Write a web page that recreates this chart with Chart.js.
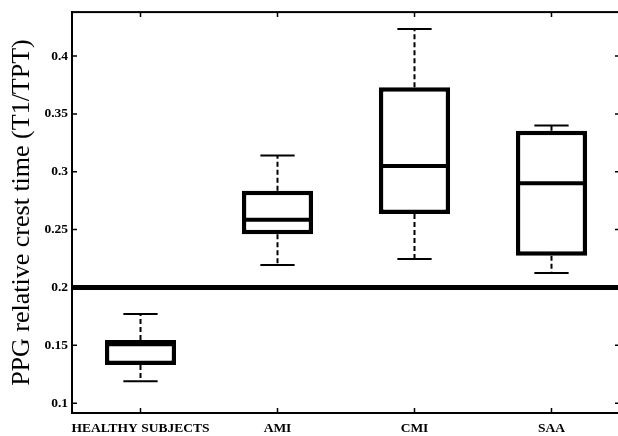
<!DOCTYPE html>
<html>
<head>
<meta charset="utf-8">
<script src="https://cdn.jsdelivr.net/npm/chart.js@4"></script>
<style>
  body { margin: 0; background: #fff; overflow: hidden; }
  #wrap { width: 622px; height: 436px; }
</style>
</head>
<body>
<div id="wrap"><canvas id="chart"></canvas></div>
<script>
// box plot values
const categories = ['HEALTHY SUBJECTS', 'AMI', 'CMI', 'SAA'];
const whiskerLow = [0.119, 0.2195, 0.2245, 0.2125];
const q1 = [0.133, 0.246, 0.2635, 0.2275];
const median = [0.151, 0.2585, 0.305, 0.290];
const q3 = [0.1545, 0.2835, 0.373, 0.3355];
const whiskerHigh = [0.177, 0.314, 0.4235, 0.340];
const yTicks = [0.1, 0.15, 0.2, 0.25, 0.3, 0.35, 0.4];
const threshold = 0.2;

const ctx = document.querySelector('#chart').getContext('2d');

// whiskers, medians, threshold line, frame and inward ticks
const boxExtras = {
    id: 'boxExtras',
    afterDatasetsDraw(chart) {
        const c = chart.ctx;
        const x = chart.scales.x;
        const y = chart.scales.y;
        const area = chart.chartArea;
        const half = x.width / categories.length * 0.25;
        c.save();
        c.strokeStyle = '#000';
        categories.forEach((cat, i) => {
            const cx = x.getPixelForValue(i);
            // dashed whiskers
            c.lineWidth = 2;
            c.setLineDash([5, 3]);
            c.beginPath();
            c.moveTo(cx, y.getPixelForValue(q3[i]));
            c.lineTo(cx, y.getPixelForValue(whiskerHigh[i]));
            c.moveTo(cx, y.getPixelForValue(q1[i]));
            c.lineTo(cx, y.getPixelForValue(whiskerLow[i]));
            c.stroke();
            c.setLineDash([]);
            // caps
            c.beginPath();
            c.moveTo(cx - half / 2, y.getPixelForValue(whiskerHigh[i]));
            c.lineTo(cx + half / 2, y.getPixelForValue(whiskerHigh[i]));
            c.moveTo(cx - half / 2, y.getPixelForValue(whiskerLow[i]));
            c.lineTo(cx + half / 2, y.getPixelForValue(whiskerLow[i]));
            c.stroke();
            // median
            c.lineWidth = 4;
            c.beginPath();
            c.moveTo(cx - half + 1, y.getPixelForValue(median[i]));
            c.lineTo(cx + half - 1, y.getPixelForValue(median[i]));
            c.stroke();
        });
        // threshold line
        c.lineWidth = 5;
        c.beginPath();
        c.moveTo(area.left, y.getPixelForValue(threshold));
        c.lineTo(area.right, y.getPixelForValue(threshold));
        c.stroke();
        // frame
        c.lineWidth = 2;
        c.strokeRect(area.left, area.top, area.right - area.left, area.bottom - area.top);
        // inward ticks
        c.lineWidth = 1.5;
        c.beginPath();
        yTicks.forEach(v => {
            const py = y.getPixelForValue(v);
            c.moveTo(area.left, py); c.lineTo(area.left + 5, py);
            c.moveTo(area.right, py); c.lineTo(area.right - 5, py);
        });
        categories.forEach((cat, i) => {
            const px = x.getPixelForValue(i);
            c.moveTo(px, area.bottom); c.lineTo(px, area.bottom - 5);
            c.moveTo(px, area.top); c.lineTo(px, area.top + 5);
        });
        c.stroke();
        c.restore();
    }
};

new Chart(ctx, {
    type: 'bar',
    data: {
        labels: categories,
        datasets: [
            {
                label: 'IQR',
                data: categories.map((c, i) => [q1[i], q3[i]]),
                backgroundColor: '#fff',
                borderColor: '#000',
                borderWidth: 4.5,
                borderSkipped: false,
                barPercentage: 0.52,
                categoryPercentage: 1
            }
        ]
    },
    options: {
        responsive: true,
        maintainAspectRatio: false,
        animation: false,
        layout: { padding: { top: 9, right: 2, left: 0, bottom: 0 } },
        plugins: { legend: { display: false }, tooltip: { enabled: false } },
        scales: {
            x: {
                offset: true,
                grid: { display: false, drawTicks: false },
                border: { display: true, color: '#000', width: 2 },
                ticks: {
                    color: '#000',
                    padding: 7,
                    maxRotation: 0,
                    autoSkip: false,
                    font: { family: 'Liberation Serif', size: 13.5, weight: 'bold' }
                },
                afterFit(scale) { scale.height = 23; }
            },
            y: {
                min: 0.0915,
                max: 0.438,
                grid: { display: false, drawTicks: false },
                border: { display: true, color: '#000', width: 2 },
                afterBuildTicks(scale) { scale.ticks = yTicks.map(v => ({ value: v })); },
                ticks: {
                    color: '#000',
                    padding: 4,
                    callback: v => String(Number(v.toFixed(2))),
                    font: { family: 'Liberation Serif', size: 13.5, weight: 'bold' }
                },
                title: {
                    display: true,
                    text: 'PPG relative crest time (T1/TPT)',
                    color: '#000',
                    padding: { top: 7, bottom: 0 },
                    font: { family: 'Liberation Serif', size: 26, weight: 'normal' }
                },
                afterFit(scale) { scale.width = 72; }
            }
        }
    },
    plugins: [boxExtras]
});
</script>
</body>
</html>
